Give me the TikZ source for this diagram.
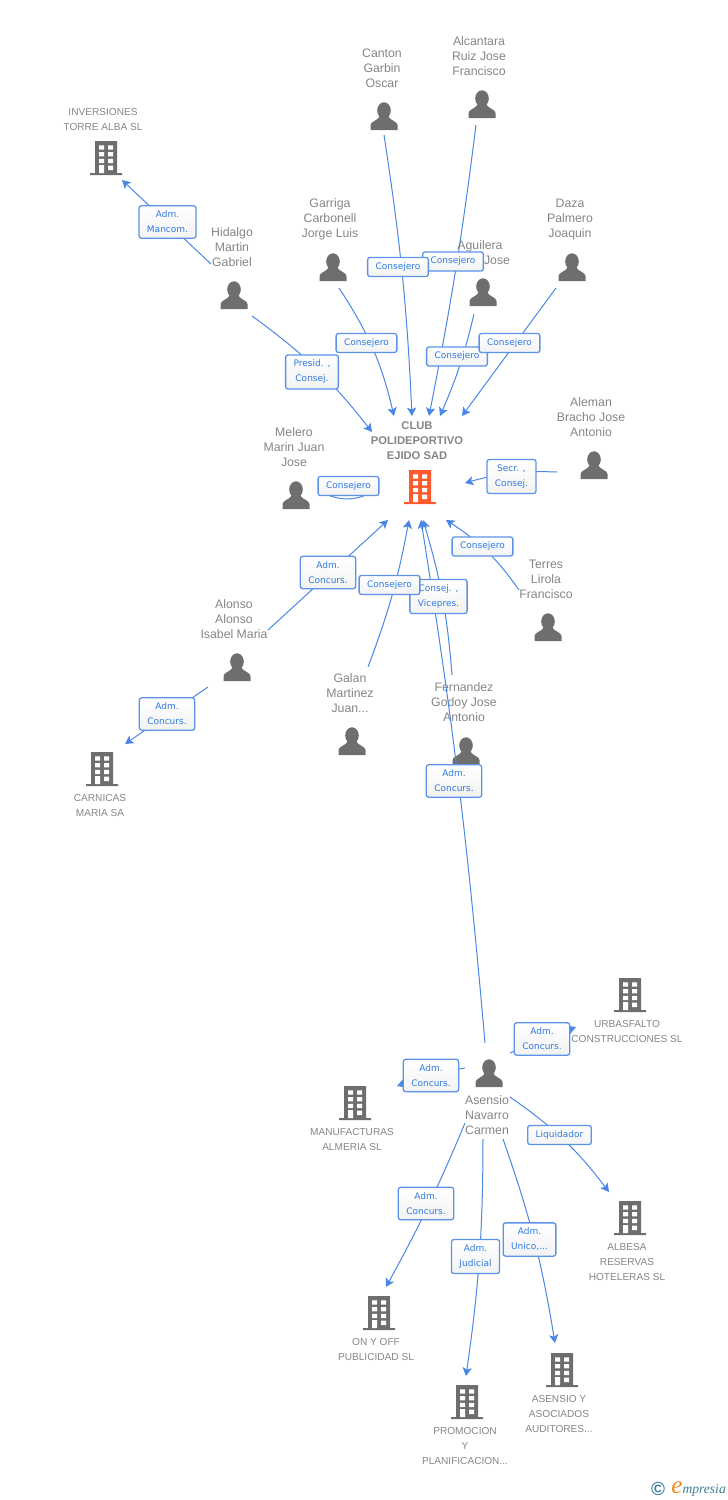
\documentclass[tikz,border=0pt]{standalone}
\usepackage{fontspec}
\setmainfont{Liberation Sans}
\newfontfamily\boxfont{DejaVu Sans}
\newfontfamily\logofont{Liberation Serif}
\usetikzlibrary{arrows.meta,positioning}

\definecolor{linkblue}{HTML}{4A86E4}
\definecolor{boxblue}{HTML}{2F7BE0}
\definecolor{icongrey}{HTML}{6E6E6E}
\definecolor{clubred}{HTML}{FF5A2D}
\definecolor{namegrey}{HTML}{858585}
\definecolor{logoteal}{HTML}{3C7F98}
\definecolor{logoorange}{HTML}{F08A1E}

\tikzset{
  personicon/.style={inner sep=0pt,minimum size=15pt,
    path picture={
      \fill[icongrey,shift={(path picture bounding box.center)}]
        (0,-5.5) ellipse[x radius=6.8,y radius=8.2]
        (-13.5,14) -- (-13.5,9) .. controls (-13.5,5.5) and (-6,4.5) .. (-4,0)
        -- (4,0) .. controls (6,4.5) and (13.5,5.5) .. (13.5,9) -- (13.5,14) -- cycle;}},
  buildingicon/.style={inner sep=0pt,minimum size=18pt,
    path picture={
      \begin{scope}[shift={(path picture bounding box.center)}]
        \fill[#1] (-11,-17) rectangle (11,15) (-16,15) rectangle (16,17);
        \foreach \wy in {-10.5,-3.8,3}
          \fill[white] (-7,\wy-2.2) rectangle (-2,\wy+2.2) (2,\wy-2.2) rectangle (7,\wy+2.2);
        \fill[white] (-7,7) rectangle (-2,15) (2,7.5) rectangle (7,12);
      \end{scope}}},
  personname/.style={align=center,text=namegrey,inner sep=0pt,font=\fontsize{6.15}{7.5}\selectfont},
  firmname/.style={align=center,text=namegrey,inner sep=0pt,font=\fontsize{5.05}{7.5}\selectfont},
  clubname/.style={align=center,text=namegrey,inner sep=0pt,font=\bfseries\fontsize{5.6}{7.5}\selectfont},
  labelbox/.style={draw=linkblue!90,line width=.65pt,rounded corners=1.2pt,top color=white,bottom color=black!5,
    text=boxblue,align=center,inner xsep=4pt,inner ysep=2.6pt,font=\boxfont\fontsize{4.5}{7.5}\selectfont},
  link/.style={-{Stealth[length=4.2pt,width=4.6pt,inset=1pt]},draw=linkblue,line width=.5pt},
}

\begin{document}
\begin{tikzpicture}[x=.5pt,y=-.5pt]
    \useasboundingbox (0,0) rectangle (728,1500);

    % club
    \node[clubname] (clubT) at (417,441) {CLUB\\POLIDEPORTIVO\\EJIDO SAD};
    \node[buildingicon=clubred] (club) at (420,487) {};

    % people
    \node[personname] (cantonT) at (382,68) {Canton\\Garbin\\Oscar};
    \node[personicon] (canton) at (384,116) {};
    \node[personname] (alcantaraT) at (479,56) {Alcantara\\Ruiz Jose\\Francisco};
    \node[personicon] (alcantara) at (482,104) {};
    \node[personname] (garrigaT) at (330,219) {Garriga\\Carbonell\\Jorge Luis};
    \node[personicon] (garriga) at (333,267) {};
    \node[personname] (aguileraT) at (480,253) {Aguilera\\\hspace*{17pt}Jose};
    \node[personicon] (aguilera) at (483,292) {};
    \node[personname] (dazaT) at (570,219.5) {Daza\\Palmero\\Joaquin};
    \node[personicon] (daza) at (572,267) {};
    \node[personname] (hidalgoT) at (232,247) {Hidalgo\\Martin\\Gabriel};
    \node[personicon] (hidalgo) at (234,295) {};
    \node[personname] (alemanT) at (591,417) {Aleman\\Bracho Jose\\Antonio};
    \node[personicon] (aleman) at (594,465) {};
    \node[personname] (meleroT) at (294,447) {Melero\\Marin Juan\\Jose};
    \node[personicon] (melero) at (296,495) {};
    \node[personname] (terresT) at (546,579) {Terres\\Lirola\\Francisco};
    \node[personicon] (terres) at (548,627) {};
    \node[personname] (alonsoT) at (234,619) {Alonso\\Alonso\\Isabel Maria};
    \node[personicon] (alonso) at (237,667) {};
    \node[personname] (galanT) at (350,693) {Galan\\Martinez\\Juan...};
    \node[personicon] (galan) at (352,741) {};
    \node[personname] (fernandezT) at (464,702) {Fernandez\\Godoy Jose\\Antonio};
    \node[personicon] (fernandez) at (466,751) {};
    \node[personname] (asensioT) at (487,1115) {Asensio\\Navarro\\Carmen};
    \node[personicon] (asensio) at (489,1073) {};

    % firms
    \node[firmname] (inversionesT) at (103,119.5) {INVERSIONES\\TORRE ALBA SL};
    \node[buildingicon=icongrey] (inversiones) at (106,158) {};
    \node[firmname] (carnicasT) at (100,805.5) {CARNICAS\\MARIA SA};
    \node[buildingicon=icongrey] (carnicas) at (102,769) {};
    \node[firmname] (urbasfaltoT) at (627,1031.5) {URBASFALTO\\CONSTRUCCIONES SL};
    \node[buildingicon=icongrey] (urbasfalto) at (630,995) {};
    \node[firmname] (manufacturasT) at (352,1139.5) {MANUFACTURAS\\ALMERIA SL};
    \node[buildingicon=icongrey] (manufacturas) at (355,1103) {};
    \node[firmname] (albesaT) at (627,1262) {ALBESA\\RESERVAS\\HOTELERAS SL};
    \node[buildingicon=icongrey] (albesa) at (630,1218) {};
    \node[firmname] (onyoffT) at (376,1349.5) {ON Y OFF\\PUBLICIDAD SL};
    \node[buildingicon=icongrey] (onyoff) at (379,1313) {};
    \node[firmname] (promocionT) at (465,1446) {PROMOCION\\Y\\PLANIFICACION...};
    \node[buildingicon=icongrey] (promocion) at (467,1402) {};
    \node[firmname] (auditoresT) at (559,1414) {ASENSIO Y\\ASOCIADOS\\AUDITORES...};
    \node[buildingicon=icongrey] (auditores) at (562,1370) {};

    % free ends of the connectors
    \coordinate (hidalgoA) at (211,264);    \coordinate (inversionesE) at (122,180);
    \coordinate (hidalgoB) at (252,316);    \coordinate (clubA) at (372,432);
    \coordinate (cantonS) at (384,135);     \coordinate (clubB) at (412,416);
    \coordinate (alcantaraS) at (476,125);  \coordinate (clubC) at (429,416);
    \coordinate (garrigaS) at (339,288);    \coordinate (clubD) at (394,416);
    \coordinate (aguileraS) at (474,314);   \coordinate (clubE) at (440,416);
    \coordinate (dazaS) at (556,288);       \coordinate (clubF) at (462,416);
    \coordinate (alemanS) at (557,472);     \coordinate (clubG) at (465,483);
    \coordinate (meleroS) at (320,491);     \coordinate (meleroE) at (374,491);
    \coordinate (terresS) at (519,590);     \coordinate (clubH) at (446,520);
    \coordinate (alonsoA) at (268,630);     \coordinate (clubI) at (388,520);
    \coordinate (alonsoB) at (208,687);     \coordinate (carnicasE) at (125,744);
    \coordinate (galanS) at (368,667);      \coordinate (clubJ) at (409,520);
    \coordinate (fernandezS) at (452,675);  \coordinate (clubK) at (423,520);
    \coordinate (asensioA) at (485,1043);   \coordinate (clubL) at (421,520);
    \coordinate (asensioB) at (510,1053);   \coordinate (urbasfaltoE) at (576,1027);
    \coordinate (asensioC) at (465,1068);   \coordinate (manufacturasE) at (397,1086);
    \coordinate (asensioD) at (510,1097);   \coordinate (albesaE) at (609,1192);
    \coordinate (asensioE) at (465,1123);   \coordinate (onyoffE) at (386,1287);
    \coordinate (asensioF) at (483,1139);   \coordinate (promocionE) at (466,1376);
    \coordinate (asensioG) at (503,1139);   \coordinate (auditoresE) at (555,1343);

    \foreach \from/\to/\bnd in {hidalgoA/inversionesE/0,hidalgoB/clubA/8,cantonS/clubB/3,alcantaraS/clubC/2,
        garrigaS/clubD/10,aguileraS/clubE/5,dazaS/clubF/0,alemanS/clubG/-9,terresS/clubH/-11,alonsoA/clubI/0,
        alonsoB/carnicasE/0,galanS/clubJ/-5,fernandezS/clubK/-6,asensioA/clubL/-2,asensioB/urbasfaltoE/0,
        asensioC/manufacturasE/-5,asensioD/albesaE/9,asensioE/onyoffE/3,asensioF/promocionE/4,asensioG/auditoresE/5}
        \draw[link] (\from) to[bend left=\bnd] (\to);
    \draw[draw=linkblue,line width=.5pt] (meleroS) to[bend right=30] (meleroE);

    % role labels
    \node[labelbox] (lblmancom) at (167.5,222) {Adm.\\Mancom.};
    \node[labelbox] (lblalcantara) at (453,261.5) {Consejero};
    \node[labelbox] (lblcanton) at (398,267) {Consejero};
    \node[labelbox] (lblgarriga) at (366.5,343) {Consejero};
    \node[labelbox] (lblpresid) at (312,372) {Presid. ,\\Consej.};
    \node[labelbox] (lblaguilera) at (457,356.5) {Consejero};
    \node[labelbox] (lbldaza) at (509.5,343) {Consejero};
    \node[labelbox] (lblsecr) at (511.5,476.5) {Secr. ,\\Consej.};
    \node[labelbox] (lblmelero) at (348.5,486) {Consejero};
    \node[labelbox] (lblterres) at (482.5,546.5) {Consejero};
    \node[labelbox] (lblalonso) at (328,572.5) {Adm.\\Concurs.};
    \node[labelbox] (lblvicepres) at (438.5,596.5) {Consej. ,\\Vicepres.};
    \node[labelbox] (lblgalan) at (389.5,585) {Consejero};
    \node[labelbox] (lblcarnicas) at (167,714) {Adm.\\Concurs.};
    \node[labelbox] (lblasensio) at (454,781) {Adm.\\Concurs.};
    \node[labelbox] (lblurbasfalto) at (542,1039) {Adm.\\Concurs.};
    \node[labelbox] (lblmanufacturas) at (431,1075.5) {Adm.\\Concurs.};
    \node[labelbox] (lblliquidador) at (559.5,1135) {Liquidador};
    \node[labelbox] (lblonyoff) at (426,1203.5) {Adm.\\Concurs.};
    \node[labelbox] (lblunico) at (529.5,1239.5) {Adm.\\Unico,...};
    \node[labelbox] (lbljudicial) at (475.5,1256.5) {Adm.\\Judicial};

    % footer
    \node[text=logoteal,inner sep=0pt,font=\bfseries\fontsize{9.5}{9.5}\selectfont] (logoC) at (658,1489) {©};
    \node[text=logoteal,inner sep=0pt,anchor=west,font=\logofont\itshape\fontsize{6.8}{7}\selectfont] (logoT) at (671,1489)
        {{\color{logoorange}\fontsize{12.5}{12}\selectfont e}mpresia};
\end{tikzpicture}
\end{document}
